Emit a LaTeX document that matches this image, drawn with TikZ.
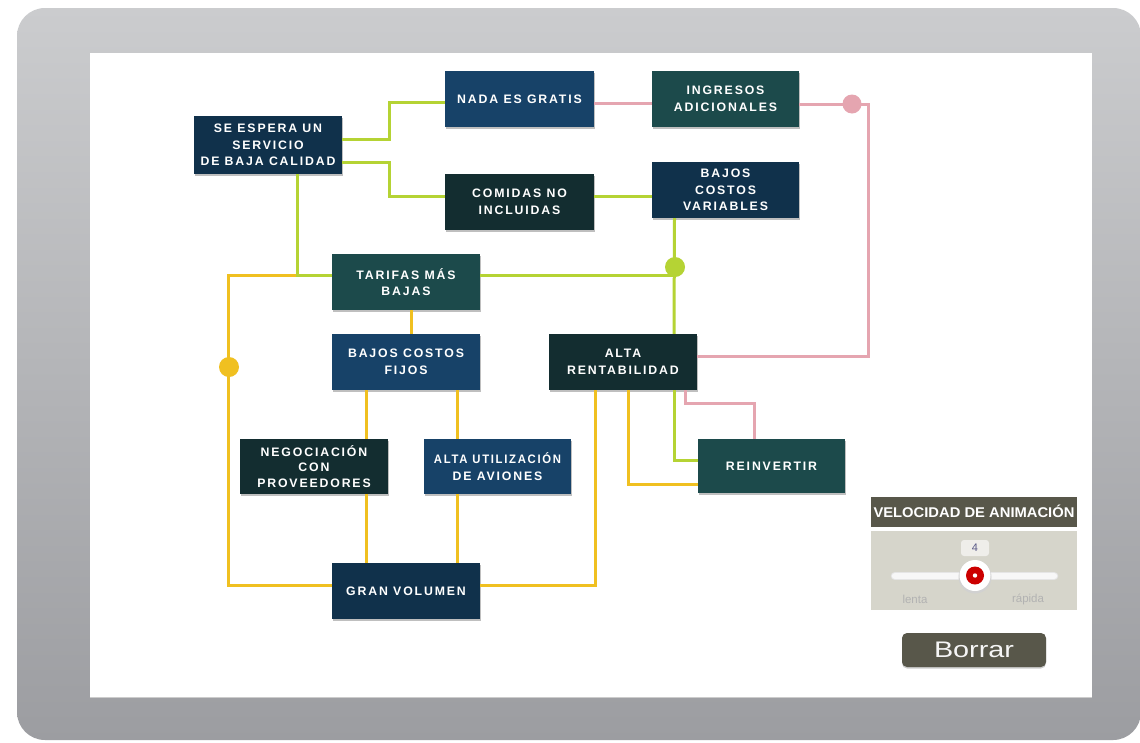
\documentclass[tikz,border=0pt]{standalone}
\usepackage{fontspec}
\usepackage{graphicx}
\setmainfont{Liberation Sans}
\newfontfamily\nf[LetterSpace=15]{Liberation Sans}
\usetikzlibrary{shadows,calc}
\definecolor{cnavy}{HTML}{10314B}
\definecolor{cblue}{HTML}{174268}
\definecolor{cteal}{HTML}{1C4A4B}
\definecolor{cdark}{HTML}{132D30}
\definecolor{gcol}{HTML}{B5D334}
\definecolor{pcol}{HTML}{E5A5B0}
\definecolor{ycol}{HTML}{F0C020}
\definecolor{wdark}{HTML}{58574A}
\definecolor{wbody}{HTML}{D6D5CB}
\definecolor{ftop}{HTML}{CBCCCE}
\definecolor{fmid}{HTML}{F2F2F3}
\definecolor{fbot}{HTML}{9C9DA1}
\tikzset{
  box/.style={draw=none, inner sep=0pt, align=center, text=white,
    font=\nf\bfseries\fontsize{12.3}{16.5}\selectfont,
    drop shadow={shadow xshift=1.2pt, shadow yshift=-1.8pt, fill=black, opacity=0.25}},
  gline/.style={draw=gcol, line width=3pt},
  pline/.style={draw=pcol, line width=3pt},
  yline/.style={draw=ycol, line width=3pt},
}
\begin{document}
\begin{tikzpicture}[x=1pt,y=-1pt]
\useasboundingbox (0,0) rectangle (1140,742);
% frame
\fill[white] (0,0) rectangle (1140,742);
\shade[top color=ftop, middle color=fmid, bottom color=fbot, rounded corners=28pt]
  (17,8) rectangle (1141,740);
\fill[white] (90,53) rectangle (1092,697);
\draw[black!20, line width=0.8pt] (90,697.4) -- (1092,697.4);

% nodes
\node[box, fill=cnavy, minimum width=148pt, minimum height=58pt] (se) at (268,145) {SE ESPERA UN\\SERVICIO\\DE BAJA CALIDAD};
\node[box, fill=cblue, minimum width=149pt, minimum height=56pt] (nada) at (519.5,99) {NADA ES GRATIS};
\node[box, fill=cteal, minimum width=147pt, minimum height=56pt] (ingresos) at (725.5,99) {INGRESOS\\ADICIONALES};
\node[box, fill=cdark, minimum width=149pt, minimum height=56pt] (comidas) at (519.5,202) {COMIDAS NO\\INCLUIDAS};
\node[box, fill=cnavy, minimum width=147pt, minimum height=56pt] (bcv) at (725.5,190) {BAJOS\\COSTOS\\VARIABLES};
\node[box, fill=cteal, minimum width=148pt, minimum height=56pt] (tarifas) at (406,282) {TARIFAS MÁS\\BAJAS};
\node[box, fill=cblue, minimum width=148pt, minimum height=56pt] (fijos) at (406,362) {BAJOS COSTOS\\FIJOS};
\node[box, fill=cdark, minimum width=148pt, minimum height=56pt] (alta) at (623,362) {ALTA\\RENTABILIDAD};
\node[box, fill=cdark, minimum width=148pt, minimum height=55pt, font=\nf\bfseries\fontsize{12.3}{15.5}\selectfont] (neg) at (314,466.5) {NEGOCIACIÓN\\CON\\PROVEEDORES};
\node[box, fill=cblue, minimum width=147pt, minimum height=55pt] (util) at (497.5,466.5) {\scalebox{0.92}[1]{ALTA UTILIZACIÓN}\\DE AVIONES};
\node[box, fill=cteal, minimum width=147pt, minimum height=54pt] (reinv) at (771.5,466) {REINVERTIR};
\node[box, fill=cnavy, minimum width=148pt, minimum height=56pt] (gran) at (406,591) {GRAN VOLUMEN};

% helper coordinates
\coordinate (seb) at ([xshift=29pt]se.south);
\coordinate (tw) at ([yshift=7pt]tarifas.west);
\coordinate (te) at ([yshift=7pt]tarifas.east);
\coordinate (bcvs) at ([xshift=-51pt]bcv.south);

% yellow connectors
\draw[yline] ([xshift=5pt]tarifas.south) -- ([xshift=5pt]fijos.north);
\draw[yline] (seb |- tw) -- ++(-69,0) |- ([yshift=6pt]gran.west);
\draw[yline] ([xshift=-40pt]fijos.south) -- ([xshift=52pt]neg.north);
\draw[yline] ([xshift=52pt]neg.south) -- ([xshift=-40pt]gran.north);
\draw[yline] ([xshift=51pt]fijos.south) -- ([xshift=-40.5pt]util.north);
\draw[yline] ([xshift=-40.5pt]util.south) -- ([xshift=51pt]gran.north);
\draw[yline] ([xshift=-28pt]alta.south) |- ([yshift=6pt]gran.east);
\draw[yline] ([xshift=5pt]alta.south) |- ([yshift=-18pt]reinv.west);
\fill[ycol] (229,367) circle (10pt);

% green connectors
\draw[gline] ([yshift=6pt]se.east) -- ++(47,0) |- ([yshift=-3pt]nada.west);
\draw[gline] ([yshift=-17pt]se.east) -- ++(47,0) |- ([yshift=6pt]comidas.west);
\draw[gline] ([yshift=6pt]comidas.east) -- ([yshift=6pt]comidas.east -| bcv.west);
\draw[gline] (seb) |- (tw);
\draw[gline] (te) -| (bcvs);
\draw[gline] (bcvs) -- ([xshift=51pt]alta.north);
\draw[gline] ([xshift=51pt]alta.south) |- ([yshift=6pt]reinv.west);
\fill[gcol] (675,267) circle (10pt);

% pink connectors
\draw[pline] ([yshift=-4pt]nada.east) -- ([yshift=-4pt]ingresos.west);
\draw[pline] ([yshift=-5pt]ingresos.east) -- ++(69,0) |- ([yshift=6pt]alta.east);
\draw[pline] ([xshift=62pt]alta.south) -- ++(0,13) -| ([xshift=-17.5pt]reinv.north);
\fill[pcol] (852,104) circle (9.5pt);

% velocity widget
\fill[wdark] (871,497) rectangle (1077,527);
\node[text=white, inner sep=0pt, font=\bfseries] (vtitle) at (974,511.5) {\resizebox{201pt}{12.5pt}{VELOCIDAD DE ANIMACIÓN}};
\fill[wbody] (871,531) rectangle (1077,610);
\node[fill=white!60!wbody, rounded corners=3pt, minimum width=28pt, minimum height=16pt, inner sep=0pt, text=black!40!blue!30!gray, font=\fontsize{11}{11}\selectfont] (val) at (975,548) {4};
\draw[line width=8.5pt, line cap=round, draw=black!10] (895,576) -- (1054,576);
\draw[line width=6.5pt, line cap=round, draw=white!94!gray] (895,576) -- (1054,576);
\fill[black!18] (975,577) circle (16.5pt);
\fill[white] (975,575.5) circle (15.5pt);
\fill[red!80!black] (975,575.5) circle (9pt);
\fill[white] (975,575.5) circle (2.2pt);
\node[text=black!30, inner sep=0pt, font=\fontsize{11.5}{11.5}\selectfont] (lenta) at (915,599) {lenta};
\node[text=black!30, inner sep=0pt, font=\fontsize{11.5}{11.5}\selectfont] (rapida) at (1028,599) {rápida};
\node[fill=wdark, rounded corners=5pt, minimum width=144pt, minimum height=34pt, inner sep=0pt, text=white!92!gray,
  drop shadow={shadow xshift=0pt, shadow yshift=-1.5pt, fill=black, opacity=0.2}] (borrar) at (974,650) {\resizebox{80pt}{15.5pt}{Borrar}};
\end{tikzpicture}
\end{document}
